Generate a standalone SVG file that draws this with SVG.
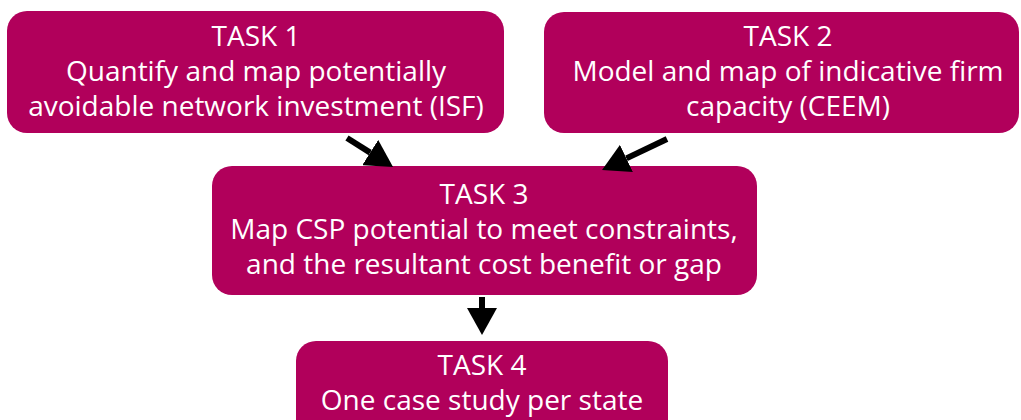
<svg xmlns="http://www.w3.org/2000/svg" width="1021" height="420" viewBox="0 0 1021 420">
  <style>
    .box { fill: #B1005B; }
    .lbl { font-family: "Open Sans", "Liberation Sans", sans-serif; font-size: 28px; fill: #FFFFFF; text-anchor: middle; }
    .conn { stroke: #000000; stroke-width: 6; fill: none; }
  </style>
  <defs>
    <marker id="head" markerUnits="userSpaceOnUse" markerWidth="28" markerHeight="30" refX="0" refY="15" orient="auto" viewBox="0 0 28 30">
      <path d="M0,0 L27,15 L0,30 Z" fill="#000000"/>
    </marker>
  </defs>
  <rect width="1021" height="420" fill="#FFFFFF"/>
  <g id="task1">
    <rect class="box" x="7" y="11" width="497" height="122" rx="20" ry="20"/>
    <text class="lbl" x="256" y="46">TASK 1</text>
    <text class="lbl" x="256" y="81">Quantify and map potentially</text>
    <text class="lbl" x="256" y="116">avoidable network investment (ISF)</text>
  </g>
  <g id="task2">
    <rect class="box" x="544" y="12" width="475" height="121" rx="20" ry="20"/>
    <text class="lbl" x="788" y="46">TASK 2</text>
    <text class="lbl" x="788" y="81">Model and map of indicative firm</text>
    <text class="lbl" x="788" y="116">capacity (CEEM)</text>
  </g>
  <g id="task3">
    <rect class="box" x="212" y="166" width="545" height="129" rx="20" ry="20"/>
    <text class="lbl" x="484" y="204">TASK 3</text>
    <text class="lbl" x="484" y="239">Map CSP potential to meet constraints,</text>
    <text class="lbl" x="484" y="274">and the resultant cost benefit or gap</text>
  </g>
  <g id="task4">
    <rect class="box" x="296" y="341" width="372" height="100" rx="20" ry="20"/>
    <text class="lbl" x="482" y="375">TASK 4</text>
    <text class="lbl" x="482" y="410">One case study per state</text>
  </g>
  <g id="connectors">
    <line class="conn" x1="347" y1="138" x2="370.2" y2="152.6" marker-end="url(#head)"/>
    <line class="conn" x1="667" y1="139" x2="626.4" y2="158.4" marker-end="url(#head)"/>
    <line class="conn" x1="482" y1="297" x2="482" y2="308" marker-end="url(#head)"/>
  </g>
</svg>
